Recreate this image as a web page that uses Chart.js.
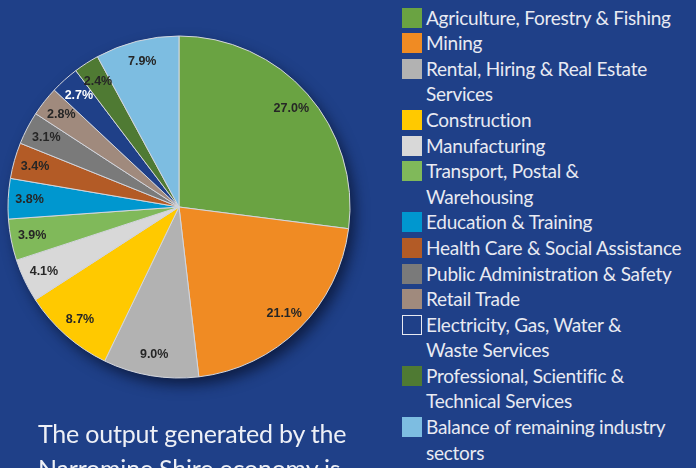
<!DOCTYPE html>
<html>
<head>
<meta charset="utf-8">
<script src="https://cdn.jsdelivr.net/npm/chart.js@4/dist/chart.umd.min.js"></script>
<style>
    html, body {
        margin: 0;
        padding: 0;
        width: 696px;
        height: 468px;
        overflow: hidden;
        background: #1f4088;
        font-family: Lato, 'Open Sans', sans-serif;
    }
    #pieWrap {
        position: absolute;
        left: 0;
        top: 0;
        width: 384px;
        height: 424px;
    }
    #legend {
        position: absolute;
        left: 402px;
        top: 0;
        width: 294px;
    }
    .item {
        position: absolute;
        left: 0;
        color: #e8eaf2;
        font-size: 19px;
        letter-spacing: -0.25px;
        line-height: 25.6px;
        white-space: pre-line;
    }
    .item .box {
        position: absolute;
        left: 0;
        top: 3px;
        width: 20px;
        height: 20px;
        box-sizing: border-box;
    }
    .item .txt {
        margin-left: 24px;
    }
    #caption {
        position: absolute;
        left: 38px;
        top: 416px;
        color: #eef0f6;
        font-size: 25px;
        letter-spacing: -0.2px;
        line-height: 35px;
        white-space: nowrap;
    }
</style>
</head>
<body>
<div id="pieWrap"><canvas id="pieChart"></canvas></div>
<div id="legend"></div>
<div id="caption">The output generated by the<br>Narromine Shire economy is</div>

<script>
'use strict';

// Industry categories (line breaks as in the legend)
const categories = [
    'Agriculture, Forestry & Fishing',
    'Mining',
    'Rental, Hiring & Real Estate\nServices',
    'Construction',
    'Manufacturing',
    'Transport, Postal &\nWarehousing',
    'Education & Training',
    'Health Care & Social Assistance',
    'Public Administration & Safety',
    'Retail Trade',
    'Electricity, Gas, Water &\nWaste Services',
    'Professional, Scientific &\nTechnical Services',
    'Balance of remaining industry\nsectors'
];

// Share of output (%)
const shares = [27.0, 21.1, 9.0, 8.7, 4.1, 3.9, 3.8, 3.4, 3.1, 2.8, 2.7, 2.4, 7.9];

const sliceColors = [
    '#6aa342', '#f08b23', '#b2b2b2', '#ffc900', '#d8d8d8', '#80b95a', '#0097cf',
    '#b35b26', '#7a7a7a', '#a08a7d', '#1f4088', '#4f7a33', '#7dbde1'
];

const labelColors = [
    '#262626', '#262626', '#262626', '#262626', '#262626', '#262626', '#262626',
    '#262626', '#262626', '#262626', '#ffffff', '#262626', '#262626'
];

const BG = '#1f4088';

// Soft shadow under the pie
const pieShadow = {
    id: 'pieShadow',
    beforeDatasetsDraw(chart) {
        const arc = chart.getDatasetMeta(0).data[0];
        if (!arc) return;
        const { ctx } = chart;
        ctx.save();
        ctx.shadowColor = 'rgba(8, 18, 45, 0.75)';
        ctx.shadowBlur = 14;
        ctx.shadowOffsetX = 5;
        ctx.shadowOffsetY = 7;
        ctx.beginPath();
        ctx.arc(arc.x, arc.y, arc.outerRadius, 0, Math.PI * 2);
        ctx.fillStyle = BG;
        ctx.fill();
        ctx.restore();
    }
};

// Percent labels inside the slices
const sliceLabels = {
    id: 'sliceLabels',
    afterDatasetsDraw(chart) {
        const { ctx } = chart;
        const meta = chart.getDatasetMeta(0);
        ctx.save();
        ctx.font = 'bold 12.5px "Liberation Sans", Arial, sans-serif';
        ctx.textAlign = 'center';
        ctx.textBaseline = 'middle';
        meta.data.forEach((arc, i) => {
            const mid = (arc.startAngle + arc.endAngle) / 2;
            const r = arc.outerRadius * 0.875;
            ctx.fillStyle = labelColors[i];
            ctx.fillText(shares[i].toFixed(1) + '%', arc.x + Math.cos(mid) * r, arc.y + Math.sin(mid) * r);
        });
        ctx.restore();
    }
};

new Chart(document.getElementById('pieChart'), {
    type: 'pie',
    data: {
        labels: categories,
        datasets: [{
            data: shares,
            backgroundColor: sliceColors,
            borderColor: '#d4d6dc',
            borderWidth: 1
        }]
    },
    options: {
        responsive: true,
        maintainAspectRatio: false,
        animation: false,
        radius: 171,
        layout: {
            padding: { left: 0, top: 0, right: 26, bottom: 10 }
        },
        plugins: {
            legend: { display: false },
            tooltip: { enabled: false }
        }
    },
    plugins: [pieShadow, sliceLabels]
});

// Legend built from the same arrays
const legend = document.getElementById('legend');
let row = 0;
categories.forEach((name, i) => {
    const item = document.createElement('div');
    item.className = 'item';
    item.style.top = (4.5 + row * 25.6) + 'px';

    const box = document.createElement('span');
    box.className = 'box';
    box.style.background = sliceColors[i];
    if (sliceColors[i] === BG) box.style.border = '1.5px solid #e8eaf2';

    const txt = document.createElement('div');
    txt.className = 'txt';
    txt.textContent = name;

    item.appendChild(box);
    item.appendChild(txt);
    legend.appendChild(item);
    row += name.split('\n').length;
});
</script>
</body>
</html>
